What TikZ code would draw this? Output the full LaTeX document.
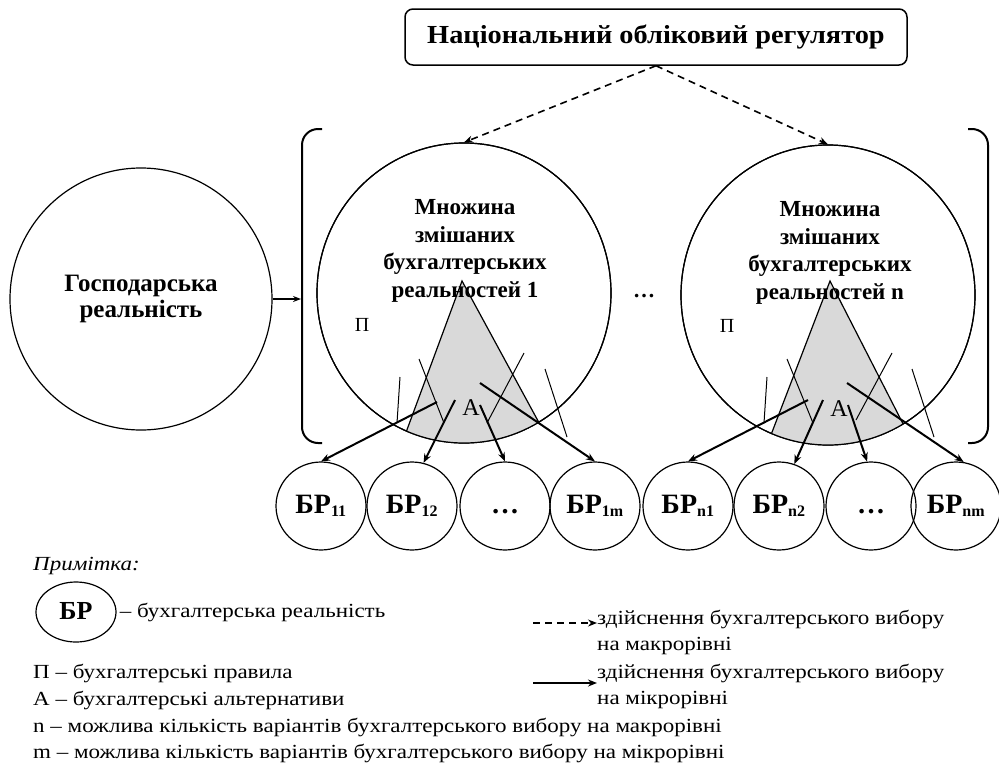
\documentclass[tikz,border=0pt]{standalone}
\usepackage{fontspec}
\setmainfont{Liberation Serif}
\newfontfamily\legendfont[FakeStretch=1.15]{Liberation Serif}
\newfontfamily\titlefont[FakeStretch=1.09]{Liberation Serif}
\newcommand{\brsub}[1]{\textsubscript{\fontsize{16}{16}\selectfont #1}}
\usetikzlibrary{shapes.geometric,arrows.meta,positioning}

\begin{document}
\begin{tikzpicture}
    [x=1pt, y=-1pt,
    every node/.style={inner sep=0pt, font=\fontsize{20}{24}\selectfont},
    realm/.style={draw, ellipse, line width=1.2pt},
    settext/.style={align=center, font=\fontsize{23}{27.7}\selectfont\bfseries},
    brnode/.style={draw, ellipse, line width=1.2pt, minimum width=90pt, minimum height=88pt,
        text height=20pt, text depth=6pt, font=\fontsize{28}{30}\selectfont\bfseries},
    rulemark/.style={line width=1pt},
    altarrow/.style={line width=2pt, -{Stealth[length=9pt,width=7pt]}},
    macroarrow/.style={line width=1.6pt, dash pattern=on 7pt off 5pt, -{Stealth[length=9pt,width=7pt]}},
    bracket/.style={line width=2pt, rounded corners=16pt},
    lgtext/.style={anchor=west, font=\fontsize{20}{24}\selectfont\legendfont}
    ]
    \useasboundingbox (0,0) rectangle (999,766);

    \node (regulator) [draw, rounded corners=8pt, line width=1.5pt, minimum width=502pt, minimum height=56pt,
        font=\fontsize{26}{28}\selectfont\titlefont\bfseries] at (656,37) {Національний обліковий регулятор};

    \node (economy) [realm, minimum width=262pt, minimum height=262pt, align=center,
        font=\fontsize{25}{26}\selectfont\bfseries] at (141,299) {Господарська\\реальність};

    \node (set1) [realm, minimum width=294pt, minimum height=300pt] at (464,293) {};
    \node (set2) [realm, minimum width=294pt, minimum height=300pt] at (828,295) {};

    \begin{scope}
        \clip (464,293) ellipse [x radius=147, y radius=150];
        \fill[gray!30] (462,281) -- (381,500) -- (581,500) -- cycle;
        \draw[line width=1.2pt] (381,500) -- (462,281) -- (581,500);
    \end{scope}
    \begin{scope}
        \clip (828,295) ellipse [x radius=147, y radius=150];
        \fill[gray!30] (830,281) -- (746,500) -- (942,500) -- cycle;
        \draw[line width=1.2pt] (746,500) -- (830,281) -- (942,500);
    \end{scope}
    \draw[line width=1.2pt] (set1.center) ellipse [x radius=147, y radius=150];
    \draw[line width=1.2pt] (set2.center) ellipse [x radius=147, y radius=150];

    \node (set1text) [settext] at (465,251) {Множина\\змішаних\\бухгалтерських\\реальностей 1};
    \node (set2text) [settext] at (830,253) {Множина\\змішаних\\бухгалтерських\\реальностей n};
    \node (dots) [font=\fontsize{22}{26}\selectfont\bfseries] at (644,296) {…};

    \node (rules1) at (362,325) {П};
    \node (rules2) at (727,326) {П};
    \node (alt1) [font=\fontsize{24}{26}\selectfont] at (471,408) {А};
    \node (alt2) [font=\fontsize{24}{26}\selectfont] at (839,409) {А};

    \draw[bracket] (322,129) -- (302,129) -- (302,443) -- (322,443);
    \draw[bracket] (968,129) -- (988,129) -- (988,443) -- (968,443);
    \coordinate (bracketleft) at (301,299);
    \draw[line width=1.2pt, -{Stealth[length=8pt,width=6pt]}] (economy.east) -- (bracketleft);

    \draw[macroarrow] (regulator.south) -- (set1.north);
    \draw[macroarrow] (regulator.south) -- (set2.north);

    \node (br11) [brnode] at (321,506) {БР\brsub{11}};
    \node (br12) [brnode] at (412,506) {БР\brsub{12}};
    \node (br1x) [brnode] at (505,506) {…};
    \node (br1m) [brnode] at (595,506) {БР\brsub{1m}};
    \node (brn1) [brnode] at (688,506) {БР\brsub{n1}};
    \node (brn2) [brnode] at (779,506) {БР\brsub{n2}};
    \node (brnx) [brnode] at (871,506) {…};
    \node (brnm) [brnode] at (956,506) {БР\brsub{nm}};

    \draw[rulemark] (400,377) -- (397,423);
    \draw[rulemark] (419,359) -- (444,423);
    \draw[rulemark] (524,353) -- (487,423);
    \draw[rulemark] (545,369) -- (567,437);
    \draw[rulemark] (767,377) -- (764,423);
    \draw[rulemark] (787,359) -- (813,423);
    \draw[rulemark] (892,353) -- (856,420);
    \draw[rulemark] (912,369) -- (934,437);

    \coordinate (a11) at (437,402);
    \coordinate (a12) at (455,400);
    \coordinate (a1x) at (480,405);
    \coordinate (a1m) at (480,383);
    \coordinate (an1) at (808,400);
    \coordinate (an2) at (823,400);
    \coordinate (anx) at (848,405);
    \coordinate (anm) at (847,383);
    \draw[altarrow] (a11) -- (br11.north);
    \draw[altarrow] (a12) -- (br12.75);
    \draw[altarrow] (a1x) -- (br1x.north);
    \draw[altarrow] (a1m) -- (br1m.north);
    \draw[altarrow] (an1) -- (brn1.north);
    \draw[altarrow] (an2) -- (brn2.70);
    \draw[altarrow] (anx) -- (brnx.95);
    \draw[altarrow] (anm) -- (brnm.80);

    \node (note) [lgtext, font=\fontsize{20}{24}\selectfont\legendfont\itshape] at (33,566) {Примітка:};
    \node (legbr) [realm, minimum width=80pt, minimum height=60pt, text height=20pt, text depth=6pt,
        font=\fontsize{26}{28}\selectfont\bfseries] at (76,612) {БР};
    \node (legbrtext) [lgtext, right=3pt of legbr] {– бухгалтерська реальність};
    \node (legrules) [lgtext] at (33,673) {П – бухгалтерські правила};
    \node (legalt) [lgtext] at (33,700) {А – бухгалтерські альтернативи};
    \node (legn) [lgtext] at (33,727) {n – можлива кількість варіантів бухгалтерського вибору на макрорівні};
    \node (legm) [lgtext] at (33,753) {m – можлива кількість варіантів бухгалтерського вибору на мікрорівні};

    \node (macro1) [lgtext] at (597,619) {здійснення бухгалтерського вибору};
    \node (macro2) [lgtext] at (597,646) {на макрорівні};
    \node (micro1) [lgtext] at (597,673) {здійснення бухгалтерського вибору};
    \node (micro2) [lgtext] at (597,700) {на мікрорівні};
    \coordinate (legdash) at (533,623);
    \coordinate (legsolid) at (533,683);
    \draw[macroarrow, line width=1.3pt] (legdash) -- (legdash -| macro1.west);
    \draw[altarrow] (legsolid) -- (legsolid -| micro1.west);
\end{tikzpicture}
\end{document}
